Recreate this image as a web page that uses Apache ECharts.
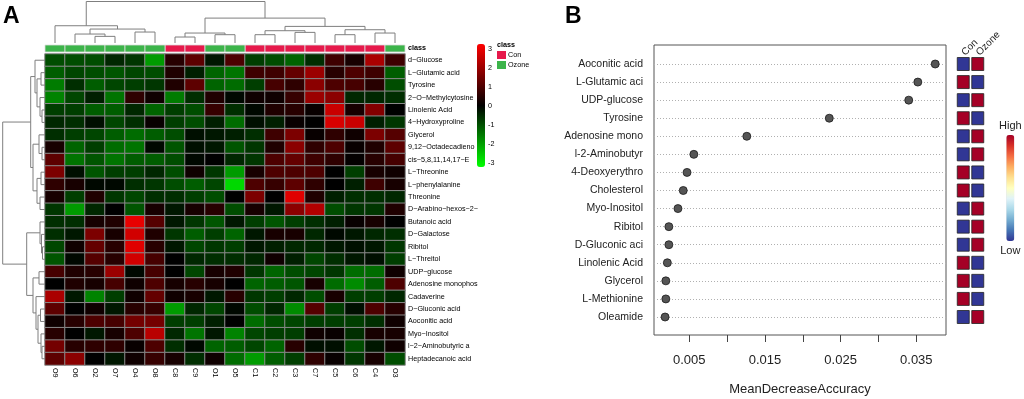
<!DOCTYPE html>
<html><head><meta charset="utf-8">
<script src="https://cdn.jsdelivr.net/npm/echarts@6/dist/echarts.min.js"></script>
<style>html,body{margin:0;padding:0;background:#fff}#c{width:1024px;height:399px}</style>
</head><body><div id="c"></div>
<script>
// ---------- Panel A data ----------
const colLabels = ['O9','O6','O2','O7','O4','O8','C8','C9','O1','O5','C1','C2','C3','C7','C5','C6','C4','O3'];
const colClass  = ['Ozone','Ozone','Ozone','Ozone','Ozone','Ozone','Con','Con','Ozone','Ozone','Con','Con','Con','Con','Con','Con','Con','Ozone'];
const classNames = ['Con','Ozone'];
const rowLabels = ['d\u2212Glucose','L\u2212Glutamic acid','Tyrosine','2\u2212O\u2212Methylcytosine','Linolenic Acid','4\u2212Hydroxyproline','Glycerol','9,12\u2212Octadecadieno','cis\u22125,8,11,14,17\u2212E','L\u2212Threonine','L\u2212phenylalanine','Threonine','D\u2212Arabino\u2212hexos\u22122\u2212','Butanoic acid','D\u2212Galactose','Ribitol','L\u2212Threitol','UDP\u2212glucose','Adenosine monophos','Cadaverine','D\u2212Gluconic acid','Aoconitic acid','Myo\u2212Inositol','l\u22122\u2212Aminobutyric a','Heptadecanoic acid'];
const heatValues = [
 [-1,-1,-1,-0.5,-0.7,-2,0.5,1.2,-0.3,1,-0.8,-1,-1.3,-0.6,0.8,0.3,2.2,0.8],
 [-1.2,-0.9,-1,-1.1,-0.9,-1,0.4,-0.4,-1.3,-1.5,0.8,0.8,1.3,2,0.5,1,0.8,-1.2],
 [-1.6,-0.6,-1.2,-0.9,-0.8,-0.7,0.4,1.2,-1.3,-1.4,-0.8,0.9,0.6,1.8,1,0.9,0.5,-1],
 [-1.7,-0.9,-0.4,-1.5,0.6,0.2,-1.6,-0.6,0.4,-0.1,0.2,0.2,0.7,2,1.8,-0.5,-0.5,-0.6],
 [-0.8,-0.8,-1.2,-1.2,-0.5,-1.3,-0.8,-1,0.7,-0.6,-0.1,0.4,0.5,0.1,2.6,0.3,1.7,0],
 [-0.5,-0.6,-0.2,-0.9,-0.6,0.1,-0.8,-1,-0.4,-1.4,-0.2,-0.4,0.1,0,2.8,2.6,-0.4,-0.7],
 [-0.6,-0.8,-0.9,-1.2,-1.4,-1.2,-1,-0.2,-0.3,-0.4,-0.6,0.8,1.6,0.1,0.6,0.2,1.6,1.1],
 [0.3,-1.3,-0.8,-1.4,-1.5,-0.1,-1.1,-0.2,-0.3,-1.1,-0.7,0.4,1.8,0.6,1,0.1,0.4,1.2],
 [1.2,-1.5,-1.1,-1.5,-1.2,-1.2,-1,-0.1,0,-0.5,-0.7,1,1.3,0.8,0.6,0.05,0.5,0.9],
 [1.6,-0.2,-1.1,-0.8,-0.8,-0.5,-1,0.2,-0.7,-2,0.3,1,1,1,0,-0.8,0.3,0.2],
 [0.6,0.3,-0.1,-0.1,-0.6,-0.7,-1,-1.2,-0.9,-2.8,1,0.7,1.2,0.6,0,-0.4,0.8,0.3],
 [0.3,-0.8,0.4,-0.7,-0.9,-0.6,-0.6,-0.8,-1,0,1.6,0,2.9,0.4,-0.4,-0.6,-0.6,-0.5],
 [-0.7,-2,-0.5,0,-1.1,0.3,-0.3,0.3,0.5,-1,0.3,-0.3,1.8,2.3,-1,-0.7,-0.7,0.4],
 [-0.6,-0.6,0.3,0.4,3,1.1,-0.3,-0.7,-1.1,-0.3,-0.8,-1.1,-0.8,-0.6,-0.4,0.1,0.3,0],
 [-0.6,-0.3,1.6,0.3,2.7,0.4,-0.7,-1.2,-0.8,-1.3,-0.3,0.3,0.3,-0.5,-0.1,-0.3,-0.5,-0.6],
 [-0.9,0.2,1.3,0.5,2.9,0.5,-0.3,-0.9,-0.7,-0.8,-0.3,-0.4,-0.5,-0.5,-0.3,-0.2,-0.3,-0.7],
 [-1.1,-0.1,1.1,0.5,2.7,0.9,0,-0.5,-0.6,-0.6,-0.5,0.2,-0.4,-0.9,-0.6,-0.3,-0.2,-0.8],
 [0.9,0.4,0.5,2,-0.1,0.9,0,-0.9,0.3,0.4,-0.7,-1.3,-1,-0.9,-0.7,-1.4,-1.4,0.2],
 [0,0.4,0.3,0.9,0.2,1,0.3,0.5,0.3,0,-1.3,-1.2,-1.1,0.3,-1.4,-1.8,-1.2,1],
 [2.2,-0.3,-1.7,-0.8,0.2,1.3,0.2,0.3,-0.3,0.5,-0.7,-0.8,-0.5,-1,0.3,-0.8,-0.8,-0.5],
 [1.2,0,0.2,-0.3,0.5,0.7,-2,-0.5,-0.9,-0.1,-1,-0.5,-1.8,1.1,-0.8,-0.2,1,0.5],
 [0.2,0.5,1,0.9,1.5,1.5,-0.8,-0.8,-0.4,0,-1.4,-1,-0.9,-0.8,-0.8,-0.8,-0.6,0.2],
 [0.5,0,-0.3,0.3,1,2.4,-0.5,-1.5,-0.3,-1.7,-0.9,-0.8,-0.8,0.2,0.1,-0.6,0.3,0.3],
 [1.5,0.5,0.6,0.6,0.1,1,-0.6,-0.1,-1.3,-1.2,-0.9,-1.3,0.5,-0.2,-0.2,-1,-0.3,0.2],
 [1.2,1.8,0,-0.3,0.2,0.7,0.3,-0.6,0.2,-1.4,-2,-1.2,-0.8,0.6,0.1,-0.7,0.3,-1]
];
// hclust-style merges: negative = leaf (display order, 1-based), positive = earlier merge row; third = height
const colMerge = [
 [-3,-4,20],[-2,1,27],[-5,-6,33],[2,3,42],[-1,4,52],
 [-7,-8,18],[-9,-10,25],[6,7,30],
 [-11,-12,25],[-13,-14,32],[9,10,37],[-15,-16,25],[-17,-18,30],[12,13,40],[11,14,50],
 [8,15,75],[5,16,125]
];
const rowMerge = [
 [-2,-3,4],[-5,-6,3],[-4,2,5],[1,3,8],[-1,4,10],
 [-8,-9,3],[-7,6,6],[-10,-11,4],[-12,-13,5],[8,9,8],[7,10,12],[5,11,14.3],
 [-16,-17,2.5],[-15,13,3.5],[-14,14,5],
 [-18,-19,6],[-24,-25,3],[-23,17,4],[-21,-22,4.5],[19,18,7],[-20,20,9],[16,21,12],
 [15,22,18.3],[12,23,42.3]
];
const heatTicks = [-3,-2,-1,0,1,2,3];

// ---------- Panel B data ----------
const rfLabels = ['Aoconitic acid','L-Glutamic aci','UDP-glucose','Tyrosine','Adenosine mono','l-2-Aminobutyr','4-Deoxyerythro','Cholesterol','Myo-Inositol','Ribitol','D-Gluconic aci','Linolenic Acid','Glycerol','L-Methionine','Oleamide'];
const rfValues = [0.0375,0.0352,0.0340,0.0235,0.0126,0.0056,0.0047,0.0042,0.0035,0.0023,0.0023,0.0021,0.0019,0.0019,0.0018];
const conLevel   = [0,1,0,1,0,0,1,1,0,0,0,1,1,1,0];
const ozoneLevel = [1,0,1,0,1,1,0,0,1,1,1,0,0,0,1];
const groupNames = ['Con','Ozone'];
const xLabelTicks = [0.005,0.015,0.025,0.035];
const xTickMarks = [0.005,0.01,0.015,0.02,0.025,0.03,0.035];

// ---------- helpers ----------
function dendro(merge, swap) {
  const pos = [], hgt = [], out = [];
  merge.forEach(function (m, k) {
    const get = function (id) { return id < 0 ? [-id - 0.5, 0] : [pos[id - 1], hgt[id - 1]]; };
    const a = get(m[0]), b = get(m[1]), h = m[2];
    let pts = [[a[0], a[1]], [a[0], h], [b[0], h], [b[0], b[1]]];
    if (swap) pts = pts.map(function (p) { return [p[1], p[0]]; });
    out.push({ coords: pts });
    pos[k] = (a[0] + b[0]) / 2; hgt[k] = h;
  });
  return out;
}
const heatData = [];
heatValues.forEach(function (row, r) { row.forEach(function (v, c) { heatData.push([c, r, v]); }); });
const classSeriesData = classNames.map(function (cn) {
  return colLabels.map(function (l, i) { return colClass[i] === cn ? [i, 0] : null; }).filter(Boolean);
});
const sqData = [];
rfLabels.forEach(function (l, i) { sqData.push([0, i, conLevel[i]]); sqData.push([1, i, ozoneLevel[i]]); });

function rectItem(w, h, stroke, lw) {
  return function (params, api) {
    const p = api.coord([api.value(0), api.value(1)]);
    const s = api.size([1, 1]);
    const ww = w || s[0], hh = h || s[1];
    return { type: 'rect', shape: { x: p[0] - ww / 2, y: p[1] - hh / 2, width: ww, height: hh },
      style: { fill: api.visual('color'), stroke: stroke, lineWidth: lw } };
  };
}

const F = 'Liberation Sans, Arial, sans-serif';
const chart = echarts.init(document.getElementById('c'), null, { renderer: 'canvas' });
const hidden = { show: false };
function G(o) { o.outerBoundsMode = 'none'; o.containLabel = false; return o; }
chart.setOption({
  animation: false,
  textStyle: { fontFamily: F },
  title: [
    { text: 'A', left: 3, top: 5, padding: 0, textStyle: { fontSize: 23, fontWeight: 'bold', color: '#000', fontFamily: F } },
    { text: 'B', left: 565, top: 5, padding: 0, textStyle: { fontSize: 23, fontWeight: 'bold', color: '#000', fontFamily: F } },
    { text: 'class', left: 497, top: 42, padding: 0, textStyle: { fontSize: 7.2, fontWeight: 'bold', color: '#000', fontFamily: F } }
  ],
  legend: {
    data: classNames, orient: 'vertical', left: 497, top: 51, padding: 0, itemGap: 2,
    itemWidth: 9, itemHeight: 8, icon: 'rect', selectedMode: false,
    textStyle: { fontSize: 7.2, color: '#000', padding: [0, 0, 0, -3] }
  },
  grid: [
    G({ left: 45, top: 54, width: 360, height: 311 }),
    G({ left: 45, top: 45, width: 360, height: 7 }),
    G({ left: 45, top: 1.5, width: 360, height: 41.5 }),
    G({ left: 2, top: 54, width: 43, height: 311 }),
    G({ left: 477, top: 49.3, width: 8, height: 113.7 }),
    G({ left: 654, top: 45, width: 292, height: 290, show: true, borderColor: '#555', borderWidth: 1, backgroundColor: 'transparent' }),
    G({ left: 654, top: 64, width: 292, height: 253 }),
    G({ left: 956, top: 64, width: 29, height: 253 })
  ],
  xAxis: [
    { gridIndex: 0, type: 'category', data: colLabels, position: 'bottom',
      axisLine: hidden, axisTick: hidden, axisLabel: { rotate: -90, fontSize: 7.2, margin: 3, color: '#000', interval: 0 } },
    { gridIndex: 1, type: 'category', data: colLabels, show: false },
    { gridIndex: 2, type: 'value', min: 0, max: 18, show: false },
    { gridIndex: 3, type: 'value', min: 0, max: 43, inverse: true, show: false },
    { gridIndex: 4, type: 'value', show: false },
    { gridIndex: 5, type: 'value', show: false },
    { gridIndex: 6, type: 'value', min: 0.000335, max: 0.038925, position: 'bottom', offset: 18,
      axisLine: hidden, splitLine: hidden,
      axisTick: { show: true, length: 7, lineStyle: { color: '#444' }, customValues: xTickMarks },
      axisLabel: { fontSize: 13, color: '#222', margin: 19, customValues: xLabelTicks },
      name: 'MeanDecreaseAccuracy', nameLocation: 'middle', nameGap: 48,
      nameTextStyle: { fontSize: 13, color: '#222' } },
    { gridIndex: 7, type: 'category', data: groupNames, position: 'top', offset: 8,
      axisLine: hidden, axisTick: hidden, axisLabel: { rotate: -45, fontSize: 10, color: '#222', margin: 2, interval: 0 } }
  ],
  yAxis: [
    { gridIndex: 0, type: 'category', data: rowLabels, inverse: true, position: 'right',
      axisLine: hidden, axisTick: hidden, axisLabel: { fontSize: 7.2, margin: 3, color: '#000', interval: 0 } },
    { gridIndex: 1, type: 'category', data: ['class'], position: 'right',
      axisLine: hidden, axisTick: hidden, axisLabel: { fontSize: 7.2, margin: 3, color: '#000', fontWeight: 'bold' } },
    { gridIndex: 2, type: 'value', min: 0, max: 125, show: false },
    { gridIndex: 3, type: 'value', min: 0, max: 25, inverse: true, show: false },
    { gridIndex: 4, type: 'value', min: -3, max: 3, interval: 1, position: 'right',
      axisLine: hidden, axisTick: hidden, splitLine: hidden,
      axisLabel: { fontSize: 7.2, margin: 3, color: '#000', customValues: heatTicks } },
    { gridIndex: 5, type: 'value', show: false },
    { gridIndex: 6, type: 'category', data: rfLabels, inverse: true, boundaryGap: false,
      axisLine: hidden, axisTick: hidden,
      axisLabel: { fontSize: 10.5, color: '#222', margin: 11, interval: 0 },
      splitLine: { show: true, lineStyle: { type: [1, 2], color: '#b0b0b0', width: 1 } } },
    { gridIndex: 7, type: 'category', data: rfLabels, inverse: true, boundaryGap: false, show: false }
  ],
  visualMap: [
    { type: 'continuous', seriesIndex: 0, dimension: 2, min: -3.3, max: 3.3, calculable: false,
      inRange: { color: ['#00ff00', '#000000', '#ff0000'] },
      left: 477, top: 44, itemWidth: 8, itemHeight: 123, padding: 0, hoverLink: false },
    { type: 'continuous', seriesIndex: 6, dimension: 2, min: 0, max: 1, calculable: false,
      inRange: { color: ['#313695','#4575b4','#74add1','#abd9e9','#e0f3f8','#ffffbf','#fee090','#fdae61','#f46d43','#d73027','#a50026'] },
      text: ['High', 'Low'], textGap: 4, textStyle: { fontSize: 11, color: '#222' },
      left: 999, top: 120, itemWidth: 8, itemHeight: 106, padding: 0, hoverLink: false }
  ],
  series: [
    { type: 'heatmap', xAxisIndex: 0, yAxisIndex: 0, data: heatData,
      itemStyle: { borderColor: '#8a8a8a', borderWidth: 1 }, silent: true },
    { type: 'custom', name: 'Con', xAxisIndex: 1, yAxisIndex: 1, data: classSeriesData[0],
      itemStyle: { color: '#e6194b' }, renderItem: rectItem(0, 0, '#dddddd', 0.8), silent: true },
    { type: 'custom', name: 'Ozone', xAxisIndex: 1, yAxisIndex: 1, data: classSeriesData[1],
      itemStyle: { color: '#3cb44a' }, renderItem: rectItem(0, 0, '#dddddd', 0.8), silent: true },
    { type: 'lines', coordinateSystem: 'cartesian2d', xAxisIndex: 2, yAxisIndex: 2, polyline: true,
      data: dendro(colMerge, false), lineStyle: { color: '#7f7f7f', width: 1, opacity: 1 }, silent: true },
    { type: 'lines', coordinateSystem: 'cartesian2d', xAxisIndex: 3, yAxisIndex: 3, polyline: true,
      data: dendro(rowMerge, true), lineStyle: { color: '#7f7f7f', width: 1, opacity: 1 }, silent: true },
    { type: 'scatter', xAxisIndex: 6, yAxisIndex: 6, data: rfValues.map(function (v, i) { return [v, i]; }),
      symbolSize: 8, itemStyle: { color: '#555555', borderColor: '#1a1a1a', borderWidth: 0.8, opacity: 1 }, silent: true },
    { type: 'custom', xAxisIndex: 7, yAxisIndex: 7, data: sqData, encode: { x: 0, y: 1 },
      renderItem: rectItem(12, 13, '#222', 0.8), silent: true }
  ]
});
</script></body></html>
